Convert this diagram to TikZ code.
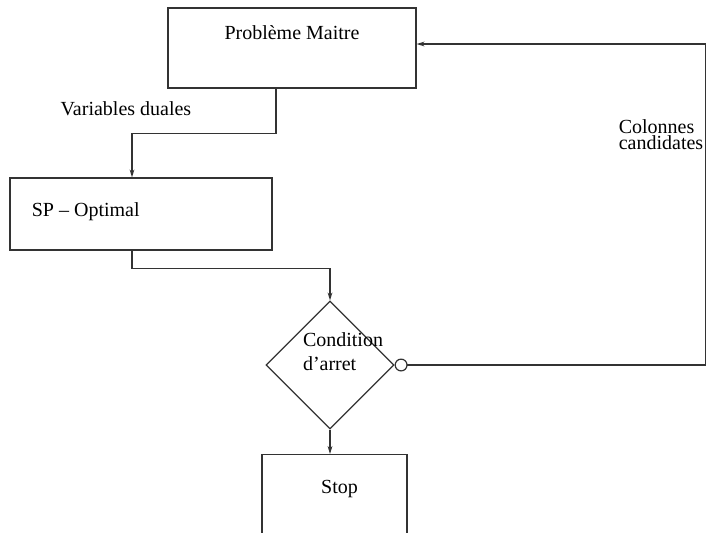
\documentclass[tikz,border=0pt]{standalone}
\usepackage{fontspec}
\setmainfont{Liberation Serif}
\usetikzlibrary{shapes.geometric}
\usetikzlibrary{arrows.meta}

\tikzset{
  box/.style={draw=black!80, line width=0.6pt, rectangle, inner sep=0pt},
  test/.style={draw=black!80, line width=0.6pt, diamond, inner sep=0pt, minimum width=64pt, minimum height=64pt},
  flow/.style={draw=black!80, line width=0.6pt, -{Stealth[length=4pt,width=2.4pt]}},
  back/.style={draw=black!80, line width=0.6pt, {Circle[open,length=6.5pt,width=6.5pt]}-{Stealth[length=4pt,width=2.4pt]}},
}

\begin{document}
\begin{tikzpicture}[x=0.5pt,y=-0.5pt]
\useasboundingbox (0,0) rectangle (706,532);
\clip (0,0) rectangle (706,532);
% blocs
\node[box, minimum width=124pt, minimum height=40pt,
  label={[anchor=center,yshift=-12.5pt]north:Problème Maitre}] (maitre) at (292,48) {};
\node[box, minimum width=131pt, minimum height=36pt,
  label={[anchor=west,xshift=7.7pt,yshift=1pt]west:SP -- Optimal}] (sp) at (141,214) {};
\node[test, label={[align=left,anchor=center,xshift=6.5pt,yshift=6.5pt]center:Condition\\d'arret}] (cond) at (330,365) {};
\node[box, anchor=north, minimum width=72.5pt, minimum height=50pt,
  label={[anchor=center,xshift=2.5pt,yshift=-17.5pt]north:Stop}] (stop) at (334.5,454) {};
% textes
\node (duales) at (126,109) {Variables duales};
\node[align=left, font={\fontsize{10pt}{7pt}\selectfont}] (colonnes) at (661,135) {Colonnes\\candidates};
% liens
\draw[flow] ([xshift=-8pt]maitre.south) -- ++(0,45) -| ([xshift=-4.5pt]sp.north);
\draw[flow] ([xshift=-4.5pt]sp.south) -- ++(0,18) -| (cond.north);
\draw[flow] (cond.south) -- (cond.south |- stop.north);
\draw[back] (cond.east) -- ++(311,0) |- ([yshift=2pt]maitre.east);
\end{tikzpicture}
\end{document}
